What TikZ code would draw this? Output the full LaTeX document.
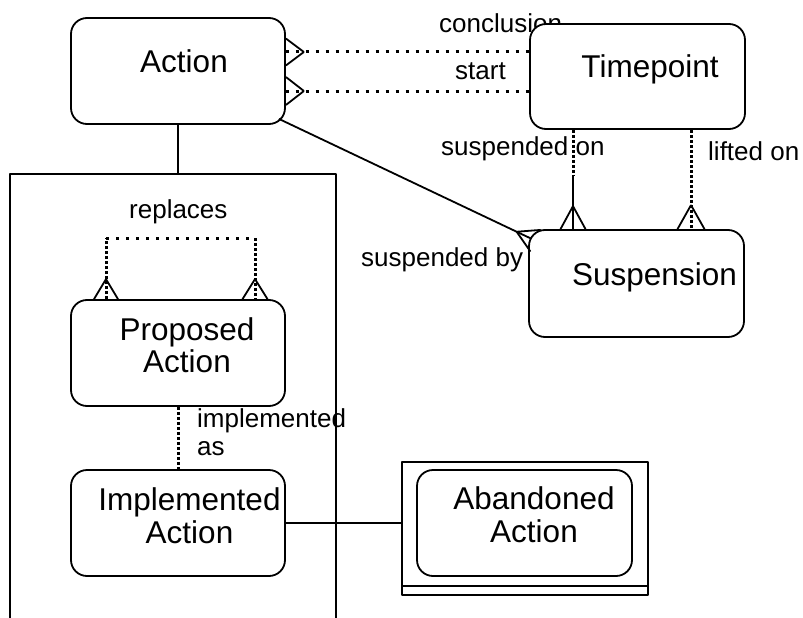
\documentclass[tikz,border=0pt]{standalone}
\usepackage{fontspec}
\setmainfont{Liberation Sans}
\usetikzlibrary{calc}
\tikzset{
  entity/.style={draw, line width=1.8pt, rounded corners=16pt, fill=white, inner sep=0pt, minimum width=214pt, minimum height=106pt},
  ename/.style={font=\fontsize{31.5}{32.5}\selectfont, align=center},
  rel/.style={font=\fontsize{26}{28}\selectfont, anchor=base west, inner sep=0pt, align=left},
  link/.style={line width=1.8pt},
  hdots/.style={line width=3pt, dash pattern=on 3pt off 7pt},
  vdots/.style={line width=3pt, dash pattern=on 3pt off 2pt},
}
% crow's foot: tip on the line, foot on the border, half spread
\newcommand{\crow}[3]{\draw[link] (#1) -- ($(#2)!#3!90:(#1)$) (#1) -- ($(#2)!#3!-90:(#1)$);}
\begin{document}
\begin{tikzpicture}[x=1pt, y=-1pt, line join=round]
\useasboundingbox (0,0) rectangle (803,618);
% relationship names
\node[rel] (l-concl) at (439,33) {conclusion};
\node[rel] (l-start) at (455,80) {start};
\node[rel] (l-suson) at (441,155) {suspended on};
\node[rel] (l-lift) at (708,160) {lifted on};
\node[rel] (l-susby) at (361,266) {suspended by};
\node[rel] (l-repl) at (129,218) {replaces};
\node[rel] (l-impl) at (197,455) {implemented\\as};
% subtype box
\coordinate (ctop) at (178,174);
\draw[link] (10,618) -- (10,174) -- (336,174) -- (336,618);
% entities
\node[entity, label={[ename, xshift=6pt, yshift=9.5pt]center:Action}] (action) at (178,71) {};
\node[entity, minimum width=215pt, minimum height=105pt, label={[ename, xshift=12.5pt, yshift=6.7pt]center:Timepoint}] (timepoint) at (637.5,76.5) {};
\node[entity, minimum width=215pt, minimum height=107pt, label={[ename, xshift=18pt, yshift=6.5pt]center:Suspension}] (suspension) at (636.5,283.5) {};
\node[entity, label={[ename, xshift=9pt, yshift=8pt]center:Proposed\\Action}] (proposed) at (178,353) {};
\node[entity, label={[ename, xshift=11.5pt, yshift=7.5pt]center:Implemented\\Action}] (implemented) at (178,523) {};
\node[draw, line width=1.8pt, inner sep=0pt, minimum width=246pt, minimum height=133pt] (frame) at (525,528.5) {};
\node[entity, minimum width=215pt, label={[ename, xshift=9.5pt, yshift=8.5pt]center:Abandoned\\Action}] (abandoned) at (524.5,523) {};
\draw[link] ([yshift=10pt]frame.south west) -- ([yshift=10pt]frame.south east);
% connectors
\draw[link] (action.south) -- (ctop);
\draw[hdots] ([yshift=19pt]action.east) -- ([yshift=19pt]action.east -| timepoint.west);
\crow{$([yshift=19pt]action.east)+(18,0)$}{[yshift=19pt]action.east}{13.5pt}
\draw[hdots] ([yshift=-20pt]action.east) -- ([yshift=-20pt]action.east -| timepoint.west);
\crow{$([yshift=-20pt]action.east)+(18,0)$}{[yshift=-20pt]action.east}{14pt}
\coordinate (on1) at ([xshift=-64.5pt]timepoint.south);
\coordinate (on2) at ([xshift=-63.5pt]suspension.north);
\coordinate (onm) at ($(on1)!0.46!(on2)$);
\draw[vdots] (on1) -- (onm);
\draw[link] (onm) -- (on2);
\crow{$(on2)+(0,-23)$}{on2}{12.5pt}
\coordinate (lf1) at ([xshift=53.5pt]timepoint.south);
\coordinate (lf2) at ([xshift=54.5pt]suspension.north);
\draw[vdots] (lf1) -- (lf2);
\crow{$(lf2)+(0,-24)$}{lf2}{13.5pt}
\coordinate (sb1) at ([xshift=-7pt,yshift=6pt]action.south east);
\coordinate (sb2) at ([xshift=3pt,yshift=-9.5pt]suspension.north west);
\draw[link] (sb1) -- (sb2);
\crow{$(sb2)!16pt!(sb1)$}{$(sb2)!-5pt!(sb1)$}{12pt}
\coordinate (rp1) at ([xshift=-72pt]proposed.north);
\coordinate (rp2) at ([xshift=77pt]proposed.north);
\draw[vdots] (rp1) -- (rp1 |- 0,238);
\draw[hdots] (rp1 |- 0,238) -- (rp2 |- 0,238);
\draw[vdots] (rp2 |- 0,238) -- (rp2);
\crow{$(rp1)+(0,-20)$}{rp1}{12pt}
\crow{$(rp2)+(0,-20)$}{rp2}{12.5pt}
\draw[vdots] (proposed.south) -- (implemented.north);
\draw[link] (implemented.east) -- (implemented.east -| frame.west);
\end{tikzpicture}
\end{document}
